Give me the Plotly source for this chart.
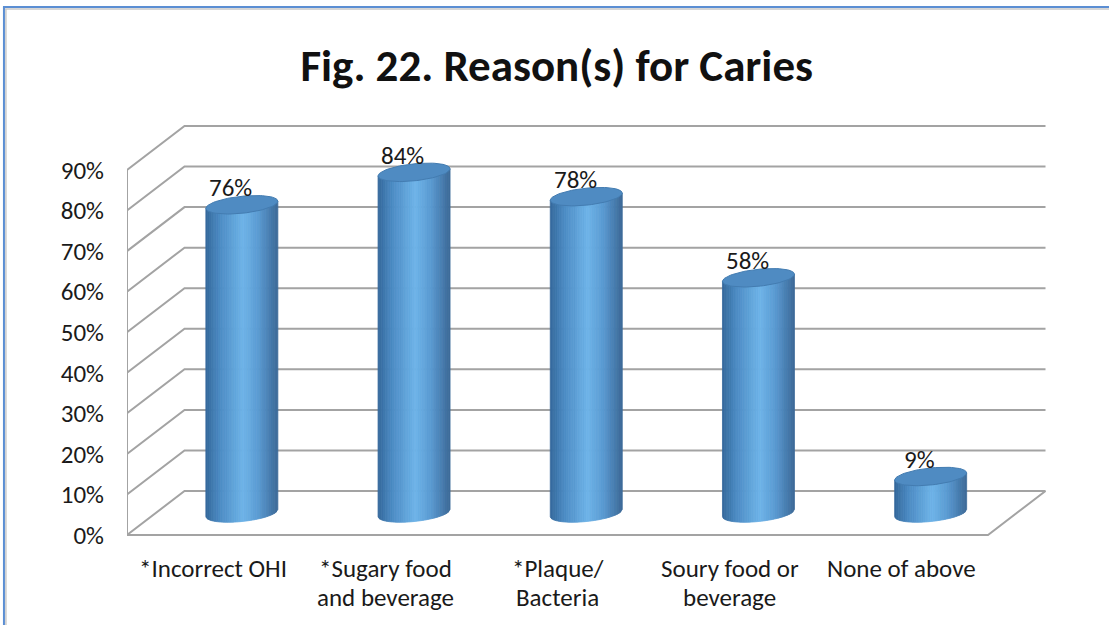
import numpy as np
import plotly.graph_objects as go

# ---- data ----
categories = ["*Incorrect OHI", "*Sugary food<br>and beverage", "*Plaque/<br>Bacteria",
              "Soury food or<br>beverage", "None of above"]
values = [76, 84, 78, 58, 9]
y_ticks = [0, 10, 20, 30, 40, 50, 60, 70, 80, 90]
y_tick_labels = [f"{t}%" for t in y_ticks]
title_text = "Fig. 22. Reason(s) for Caries"

# ---- 3-D look (data units) ----
DEPTH_X = 0.334      # depth shift along x (category units)
DEPTH_Y = 10.85      # depth shift along y (percent units)
RADIUS = 0.209       # cylinder half width (category units)
CAP = 2.1            # ellipse half height (percent units)
TILT = 4.25          # ellipse tilt (percent per category unit)
GRID_COLOR = "#a3a3a3"
FONT = "Carlito, Lato, sans-serif"
LABEL_SIZE = 25

fig = go.Figure()

# walls and floor
x0, x1 = -0.5, len(categories) - 0.5
top_level = y_ticks[-1]
for lv in y_ticks:
    fig.add_trace(go.Scatter(
        x=[x0, x0 + DEPTH_X, x1 + DEPTH_X], y=[lv, lv + DEPTH_Y, lv + DEPTH_Y],
        mode="lines", line=dict(color=GRID_COLOR, width=2), hoverinfo="skip"))
fig.add_trace(go.Scatter(
    x=[x0, x0, None, x0, x1, x1 + DEPTH_X], y=[0, top_level, None, 0, 0, DEPTH_Y],
    mode="lines", line=dict(color=GRID_COLOR, width=2), hoverinfo="skip"))

# cylinder shading
stops = [(-1.0, (52, 104, 154)), (-0.6, (76, 139, 196)), (0.05, (110, 180, 232)),
         (0.5, (88, 152, 208)), (0.85, (68, 119, 168)), (1.0, (60, 106, 152))]


def shade(u):
    for (ua, ca), (ub, cb) in zip(stops[:-1], stops[1:]):
        if ua <= u <= ub:
            f = (u - ua) / (ub - ua)
            c = [round(a + (b - a) * f) for a, b in zip(ca, cb)]
            return f"rgb({c[0]},{c[1]},{c[2]})"
    return "rgb(60,106,152)"


N_STRIPS = 40
edges = np.linspace(-1, 1, N_STRIPS + 1)
for i, v in enumerate(values):
    cx = i + DEPTH_X / 2
    base = DEPTH_Y / 2
    top = v + DEPTH_Y / 2
    for ua, ub in zip(edges[:-1], edges[1:]):
        u = np.linspace(ua, ub, 4)
        xs = cx + RADIUS * u
        y_top = top + TILT * RADIUS * u
        y_bot = base + TILT * RADIUS * u - CAP * np.sqrt(np.clip(1 - u ** 2, 0, 1))
        col = shade((ua + ub) / 2)
        fig.add_trace(go.Scatter(
            x=np.concatenate([xs, xs[::-1], xs[:1]]),
            y=np.concatenate([y_top, y_bot[::-1], y_top[:1]]),
            mode="lines", fill="toself", fillcolor=col,
            line=dict(color=col, width=0.8), hoverinfo="skip"))
    t = np.linspace(0, 2 * np.pi, 80)
    fig.add_trace(go.Scatter(
        x=cx + RADIUS * np.cos(t),
        y=top + TILT * RADIUS * np.cos(t) + CAP * np.sin(t),
        mode="lines", fill="toself", fillcolor="#4f8bc2",
        line=dict(color="#437cb1", width=1), hoverinfo="skip"))

annotations = []
for i, v in enumerate(values):
    annotations.append(dict(
        x=i + DEPTH_X / 2 - 0.065, y=v + DEPTH_Y / 2 + 4.2, xref="x", yref="y",
        text=f"{v}%", showarrow=False, yanchor="middle",
        font=dict(family=FONT, size=LABEL_SIZE, color="#1a1a1a")))

# category labels under the floor, one annotation per text line
for i, cat in enumerate(categories):
    for k, line in enumerate(cat.split("<br>")):
        annotations.append(dict(
            x=i, y=-0.0667 - 0.0695 * k, xref="x", yref="paper", text=line,
            showarrow=False, yanchor="middle",
            font=dict(family=FONT, size=LABEL_SIZE, color="#1a1a1a")))

shapes = [
    dict(type="line", xref="paper", yref="paper", x0=-0.1253, x1=1.0, y0=1.2643, y1=1.2643,
         line=dict(color="#c9c9c9", width=1.5)),
    dict(type="line", xref="paper", yref="paper", x0=-0.1233, x1=-0.1233, y0=1.2643, y1=-0.3,
         line=dict(color="#c9c9c9", width=1.5)),
    dict(type="line", xref="paper", yref="paper", x0=-0.1263, x1=1.0, y0=1.269, y1=1.269,
         line=dict(color="#5b8ed3", width=2)),
    dict(type="line", xref="paper", yref="paper", x0=-0.1253, x1=-0.1253, y0=1.27, y1=-0.3,
         line=dict(color="#5b8ed3", width=2)),
]

fig.update_layout(
    width=1109, height=625,
    margin=dict(l=127, r=0, t=120, b=85),
    paper_bgcolor="white", plot_bgcolor="white",
    showlegend=False,
    title=dict(text=f"<b>{title_text}</b>", x=0.502, xanchor="center",
               y=1 - 65 / 625, yanchor="middle", yref="container",
               font=dict(family=FONT, size=45, color="#111111")),
    xaxis=dict(range=[-0.5, -0.5 + 982 / 172.2], showgrid=False, zeroline=False,
               showline=False, showticklabels=False, ticks="", fixedrange=True),
    yaxis=dict(range=[-5 / 4.0556, 415 / 4.0556], showgrid=False, zeroline=False,
               showline=False, ticks="", tickvals=y_ticks, ticktext=y_tick_labels,
               ticklabelstandoff=22, tickfont=dict(family=FONT, size=LABEL_SIZE, color="#1a1a1a"),
               fixedrange=True),
    annotations=annotations,
    shapes=shapes,
)

fig.write_html("out.html")
